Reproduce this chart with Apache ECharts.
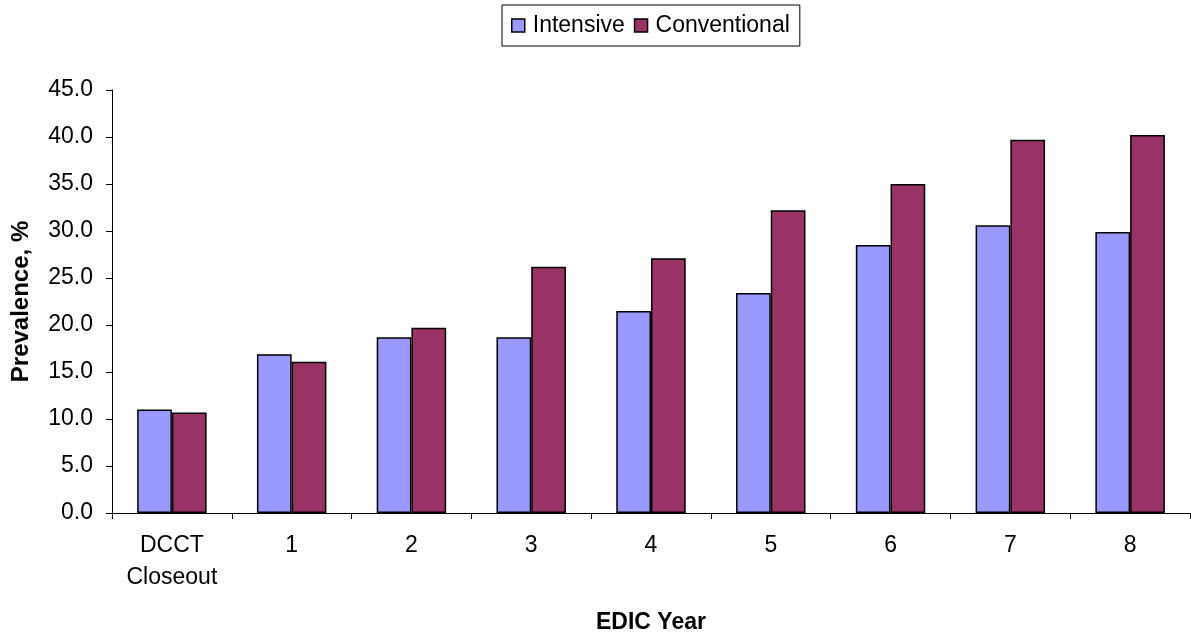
<!DOCTYPE html>
<html>
<head>
<meta charset="utf-8">
<script src="https://cdn.jsdelivr.net/npm/echarts@6/dist/echarts.min.js"></script>
<style>
html,body{margin:0;padding:0;background:#fff;}
#c{width:1191px;height:634px;}
</style>
</head>
<body>
<div id="c"></div>
<script>
const categories = ['DCCT\nCloseout', '1', '2', '3', '4', '5', '6', '7', '8'];
const intensive = [11.0, 16.9, 18.7, 18.7, 21.5, 23.4, 28.5, 30.6, 29.9];
const conventional = [10.7, 16.1, 19.7, 26.2, 27.1, 32.2, 35.0, 39.7, 40.2];
const yTicks = { min: 0, max: 45, interval: 5 };

const FONT = '"Liberation Sans", Arial, sans-serif';
const chart = echarts.init(document.getElementById('c'), null, { renderer: 'canvas' });
chart.setOption({
  animation: false,
  backgroundColor: '#ffffff',
  textStyle: { fontFamily: FONT },
  legend: {
    top: 5,
    left: 502,
    data: ['Intensive', 'Conventional'],
    borderColor: '#000',
    borderWidth: 1,
    borderRadius: 0,
    padding: [9, 10, 9, 9],
    itemWidth: 13,
    itemHeight: 13,
    itemGap: 9,
    icon: 'rect',
    itemStyle: { borderColor: '#000', borderWidth: 1.5 },
    textStyle: { fontFamily: FONT, fontSize: 23, color: '#000', padding: [0, 0, 0, 3] }
  },
  grid: { left: 112, right: 1, top: 90, bottom: 121, containLabel: false, outerBoundsMode: 'none' },
  xAxis: {
    type: 'category',
    data: categories,
    name: 'EDIC Year',
    nameLocation: 'middle',
    nameGap: 98,
    nameTextStyle: { fontFamily: FONT, fontSize: 23, fontWeight: 'bold', color: '#000' },
    axisLine: { lineStyle: { color: '#000', width: 1 } },
    axisTick: { show: true, length: 6, lineStyle: { color: '#000' } },
    axisLabel: { fontFamily: FONT, fontSize: 23, color: '#000', margin: 17, lineHeight: 32 }
  },
  yAxis: {
    type: 'value',
    min: yTicks.min,
    max: yTicks.max,
    interval: yTicks.interval,
    name: 'Prevalence, %',
    nameLocation: 'middle',
    nameGap: 79,
    nameTextStyle: { fontFamily: FONT, fontSize: 24, fontWeight: 'bold', color: '#000' },
    axisLine: { show: true, lineStyle: { color: '#000', width: 1 } },
    axisTick: { show: true, length: 6, lineStyle: { color: '#000' } },
    splitLine: { show: false },
    axisLabel: { fontFamily: FONT, fontSize: 23, color: '#000', margin: 19, formatter: v => v.toFixed(1) }
  },
  series: [
    {
      name: 'Intensive', type: 'bar', data: intensive,
      barGap: '0%', barCategoryGap: '42%',
      itemStyle: { color: '#9999FF', borderColor: '#000', borderWidth: 1.5 }
    },
    {
      name: 'Conventional', type: 'bar', data: conventional,
      barGap: '0%', barCategoryGap: '42%',
      itemStyle: { color: '#993366', borderColor: '#000', borderWidth: 1.5 }
    }
  ]
});
</script>
</body>
</html>
